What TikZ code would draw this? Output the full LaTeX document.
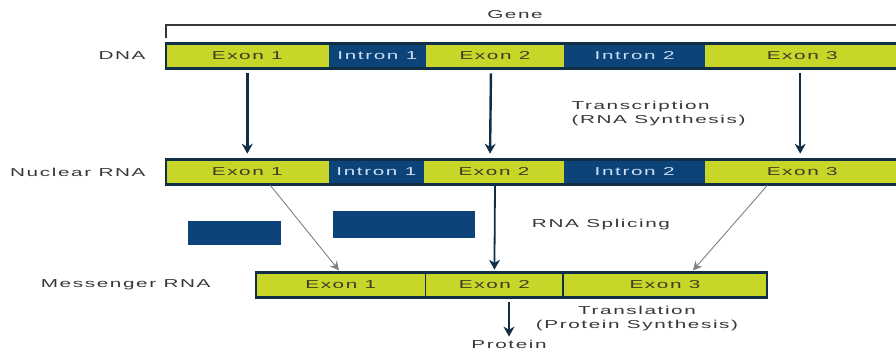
\documentclass[tikz,border=0pt]{standalone}
\usepackage{fontspec}
\newfontfamily\diagfont[FakeStretch=1.8,LetterSpace=14]{Liberation Sans}
\usetikzlibrary{arrows.meta, calc}

\definecolor{exonlime}{RGB}{200,214,42}
\definecolor{intronblue}{RGB}{12,68,122}
\definecolor{framenavy}{RGB}{16,46,70}
\definecolor{exontext}{RGB}{60,60,35}
\definecolor{introntext}{RGB}{205,220,240}
\definecolor{labelgray}{RGB}{55,55,55}

\begin{document}
\begin{tikzpicture}[
            x=1pt,
            y=-1pt,
            >={Stealth[length=10pt, width=11pt]},
            font=\diagfont\fontsize{11.5}{14}\selectfont,
            exon/.style={fill=exonlime, draw=exonlime, line width=0.6pt, text=exontext, minimum height=24, inner sep=0, anchor=west},
            intron/.style={fill=intronblue, draw=intronblue, line width=0.6pt, text=introntext, minimum height=24, inner sep=0, anchor=west},
            cutout/.style={fill=intronblue, inner sep=0},
            frame/.style={draw=framenavy, line width=2.6pt},
            rowlabel/.style={text=labelgray, anchor=east},
            steplabel/.style={text=labelgray, align=center},
            trans/.style={->, line width=2.4pt, draw=framenavy, shorten <=5, shorten >=6},
            splice/.style={-{Stealth[length=9pt, width=9pt]}, line width=0.9pt, draw=gray},
        ]

            \useasboundingbox (0,0) rectangle (896,350);

            % --- Gene ---
            \node[text=labelgray] (gene) at (515,15) {Gene};
            \draw[line width=1.4pt, draw=labelgray] (166,38) -- (166,25) -- (896,25);

            % --- DNA ---
            \node[rowlabel] (dna) at (149,56) {DNA};
            \node[exon,   minimum width=162] (dnaex1) at (166,56)       {Exon 1};
            \node[intron, minimum width=97]  (dnain1) at (dnaex1.east) {Intron 1};
            \node[exon,   minimum width=137] (dnaex2) at (dnain1.east) {Exon 2};
            \node[intron, minimum width=141] (dnain2) at (dnaex2.east) {Intron 2};
            \node[exon,   minimum width=193] (dnaex3) at (dnain2.east) {Exon 3};
            \draw[frame] (dnaex1.north west) rectangle (dnaex3.south east);

            % --- Nuclear RNA ---
            \node[rowlabel] (nuc) at (149,172) {Nuclear RNA};
            \node[exon,   minimum width=162] (nucex1) at (166,172)      {Exon 1};
            \node[intron, minimum width=95]  (nucin1) at (nucex1.east) {Intron 1};
            \node[exon,   minimum width=139] (nucex2) at (nucin1.east) {Exon 2};
            \node[intron, minimum width=141] (nucin2) at (nucex2.east) {Intron 2};
            \node[exon,   minimum width=193] (nucex3) at (nucin2.east) {Exon 3};
            \draw[frame] (nucex1.north west) rectangle (nucex3.south east);

            % --- Transcription ---
            \draw[trans] (dnaex1.south) -- (nucex1.north);
            \draw[trans] ($(dnaex2.south)+(-4,0)$) -- ($(nucex2.north)+(-4,0)$);
            \draw[trans] ($(dnaex3.south)+(-2,0)$) -- ($(nucex3.north)+(-2,0)$);
            \node[text=labelgray, align=left, anchor=west] (transcr) at (568,114) {Transcription\\(RNA Synthesis)};

            % --- Messenger RNA ---
            \node[rowlabel] (mrna) at (214,285) {Messenger RNA};
            \node[exon, minimum width=169] (mex1) at (256,285)    {Exon 1};
            \node[exon, minimum width=137] (mex2) at (mex1.east) {Exon 2};
            \node[exon, minimum width=203] (mex3) at (mex2.east) {Exon 3};
            \draw[frame] (mex1.north west) rectangle (mex3.south east);
            \draw[frame, line width=1.6pt] (mex1.north east) -- (mex1.south east);
            \draw[frame, line width=1.6pt] (mex2.north east) -- (mex2.south east);

            % --- Splicing ---
            \node[cutout, minimum width=93, minimum height=24] (cut1) at (234.5,233) {};
            \node[cutout, minimum width=142, minimum height=27] (cut2) at (404,224.5) {};
            \draw[splice, shorten >=3] ($(nucex1.south)+(23,1)$) -- (mex1.north);
            \draw[->, line width=1.8pt, draw=framenavy, shorten >=3] ($(nucex2.south)+(1,0)$) -- (mex2.north);
            \draw[splice, shorten >=3] ($(nucex3.south west)+(62,1)$) -- ($(mex3.north)+(26,0)$);
            \node[steplabel] (splicing) at (601,225) {RNA Splicing};

            % --- Translation ---
            \node[text=labelgray, inner sep=1] (protein) at (509,344) {Protein};
            \draw[trans, shorten >=2] (mex2.south -| protein.north) -- (protein.north);
            \node[steplabel] (transl) at (637,318.5) {Translation\\(Protein Synthesis)};

        \end{tikzpicture}
\end{document}
